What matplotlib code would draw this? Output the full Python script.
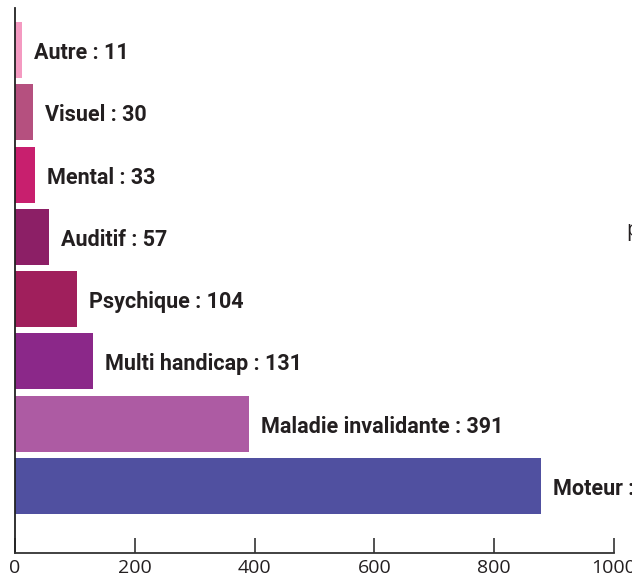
import matplotlib
matplotlib.use("Agg")
import matplotlib.pyplot as plt

categories = ["Moteur", "Maladie invalidante", "Multi handicap", "Psychique",
              "Auditif", "Mental", "Visuel", "Autre"]
values = [878, 391, 131, 104, 57, 33, 30, 11]
colors = ["#5050A0", "#AD5BA3", "#8B2889", "#A01F5C",
          "#8C1F66", "#C81F6E", "#B5507F", "#F49AC1"]
xticks = [0, 200, 400, 600, 800, 1000]

W, H = 632, 582
fig = plt.figure(figsize=(W / 100, H / 100), dpi=100)
ax = fig.add_axes([15 / W, (H - 553) / H, (614 - 15) / W, (553 - 8) / H])

pos = list(range(len(categories)))
ax.barh(pos, values, height=0.9, color=colors, zorder=2)

for p, c, v in zip(pos, categories, values):
    ax.annotate(f"{c} : {v}", xy=(v, p), xytext=(12, -3), textcoords="offset pixels",
                ha="left", va="center", fontsize=15.5, fontweight="bold",
                family="Roboto", color="#231F20", annotation_clip=False)

ax.set_xlim(0, 1000)
ax.set_ylim(-1.075, 7.674)
ax.set_xticks(xticks)
ax.set_xticklabels([str(t) for t in xticks], family="Open Sans", fontsize=14, color="#231F20")
ax.set_yticks([])
ax.tick_params(axis="x", direction="in", length=11, width=1.2, color="#333333", pad=4)
for s in ["top", "right"]:
    ax.spines[s].set_visible(False)
ax.spines["left"].set_color("#222222")
ax.spines["bottom"].set_color("#333333")
ax.spines["left"].set_linewidth(1.3)
ax.spines["bottom"].set_linewidth(1.3)

fig.text(626 / W, (H - 236) / H, "p", family="Open Sans", fontsize=15,
         color="#231F20", ha="left", va="baseline")

fig.savefig("out.png", dpi=100)
